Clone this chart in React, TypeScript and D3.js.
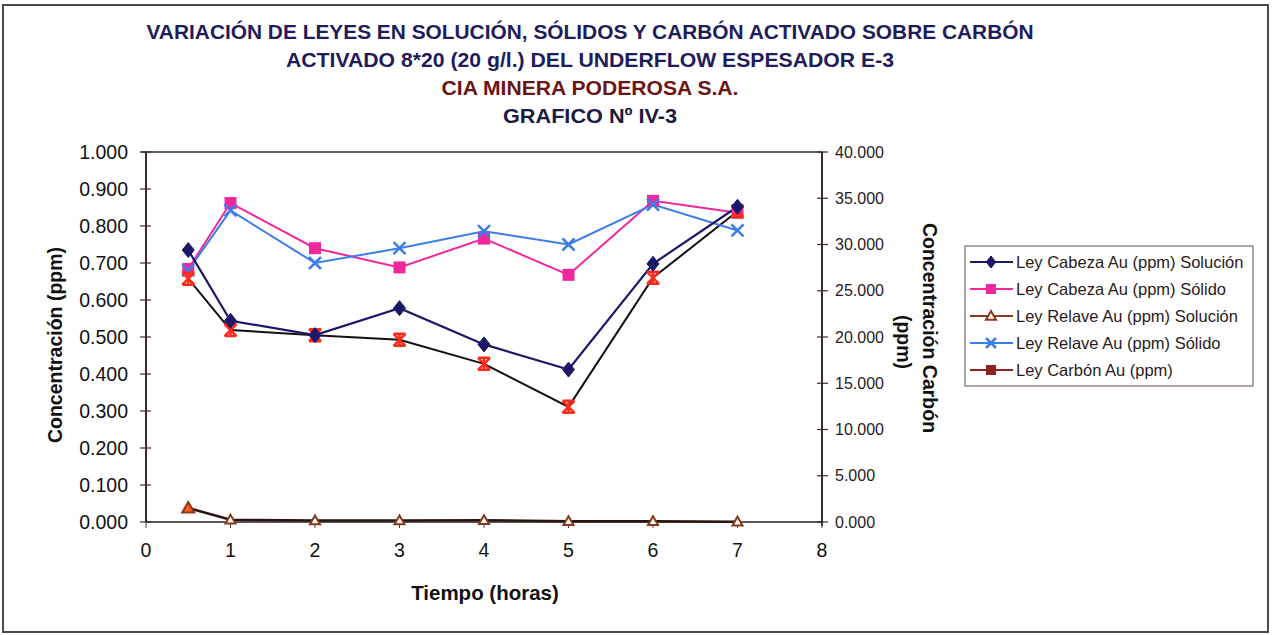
import React from "react";
import * as d3 from "d3";

const times = [0.5, 1, 2, 3, 4, 5, 6, 7];
const cabezaSolucion = [0.735, 0.544, 0.505, 0.578, 0.480, 0.412, 0.698, 0.852];
const cabezaSolido = [0.684, 0.862, 0.740, 0.688, 0.766, 0.668, 0.868, 0.836];
const relaveSolucion = [0.038, 0.006, 0.004, 0.004, 0.005, 0.002, 0.002, 0.001];
const relaveSolido = [0.680, 0.842, 0.700, 0.740, 0.786, 0.750, 0.858, 0.788];
const carbon = [26300, 20750, 20200, 19700, 17100, 12450, 26400, 33600];

const leftTicks = [0, 0.1, 0.2, 0.3, 0.4, 0.5, 0.6, 0.7, 0.8, 0.9, 1.0];
const rightTicks = [0, 5000, 10000, 15000, 20000, 25000, 30000, 35000, 40000];
const xTicks = [0, 1, 2, 3, 4, 5, 6, 7, 8];

const titleLines = [
  { text: "VARIACIÓN DE LEYES EN SOLUCIÓN, SÓLIDOS Y CARBÓN ACTIVADO SOBRE CARBÓN", color: "#1f1c5c" },
  { text: "ACTIVADO 8*20 (20 g/l.) DEL UNDERFLOW ESPESADOR E-3", color: "#1f1c5c" },
  { text: "CIA MINERA PODEROSA S.A.", color: "#6b1414" },
  { text: "GRAFICO Nº IV-3", color: "#1c1a40" },
];
const titleWidths = [887, 608, 297, 174];

const legendLabels = [
  "Ley Cabeza Au (ppm) Solución",
  "Ley Cabeza Au (ppm) Sólido",
  "Ley Relave Au (ppm) Solución",
  "Ley Relave Au (ppm) Sólido",
  "Ley Carbón Au (ppm)",
];

const NAVY = "#1b1868";
const PINK = "#f0289c";
const BROWN = "#8a3a1c";
const BLUE = "#3c7ee8";
const CARB_RED = "#ff2a1a";
const CARB_LEG = "#8c2424";

const fmt = (v: number) => d3.format(".3f")(v).replace(",", "");
const fmtR = (v: number) => (v / 1000).toFixed(3);

function Diamond({ x, y, s = 7, fill }: { x: number; y: number; s?: number; fill: string }) {
  return <path d={`M${x},${y - s}L${x + s * 0.8},${y}L${x},${y + s}L${x - s * 0.8},${y}Z`} fill={fill} stroke={fill} />;
}
function Square({ x, y, s = 6, fill }: { x: number; y: number; s?: number; fill: string }) {
  return <rect x={x - s} y={y - s} width={2 * s} height={2 * s} fill={fill} />;
}
function Cross({ x, y, s = 6, stroke }: { x: number; y: number; s?: number; stroke: string }) {
  return <path d={`M${x - s},${y - s}L${x + s},${y + s}M${x - s},${y + s}L${x + s},${y - s}`} stroke={stroke} strokeWidth={2.5} fill="none" />;
}
function Tri({ x, y, s = 6, stroke, fill }: { x: number; y: number; s?: number; stroke: string; fill: string }) {
  return <path d={`M${x},${y - s}L${x + s},${y + s * 0.75}L${x - s},${y + s * 0.75}Z`} stroke={stroke} strokeWidth={2} fill={fill} />;
}
function Star({ x, y, s = 6, color }: { x: number; y: number; s?: number; color: string }) {
  return (
    <path d={`M${x - s},${y - s}L${x + s},${y + s}M${x - s},${y + s}L${x + s},${y - s}M${x - s},${y - s}L${x + s},${y - s}M${x - s},${y + s}L${x + s},${y + s}M${x},${y - s}L${x},${y + s}`} stroke={color} strokeWidth={2.5} fill="none" />
  );
}

export default function App() {
  const W = 1272, H = 635;
  const x0 = 146, x1 = 822, yTop = 152, yBot = 522;
  const x = d3.scaleLinear().domain([0, 8]).range([x0, x1]);
  const yL = d3.scaleLinear().domain([0, 1]).range([yBot, yTop]);
  const yR = d3.scaleLinear().domain([0, 40000]).range([yBot, yTop]);

  const lineL = (vals: number[]) =>
    d3.line<number>().x((_, i) => x(times[i])).y((v) => yL(v))(vals) || "";
  const lineR = (vals: number[]) =>
    d3.line<number>().x((_, i) => x(times[i])).y((v) => yR(v))(vals) || "";

  const font = "'Liberation Sans', Arial, sans-serif";

  const legX = 965, legY = 246;
  const legRows = [262, 289, 316, 343, 370];

  return (
    <svg width={W} height={H} style={{ position: "absolute", left: 0, top: 0, background: "#fff" }}>
      <rect x={0} y={0} width={W} height={H} fill="#fff" />
      <rect x={3} y={5} width={1265} height={627} fill="none" stroke="#4a4a4a" strokeWidth={2} />

      {titleLines.map((t, i) => (
        <text key={i} x={590} y={39 + i * 28} textAnchor="middle" fill={t.color}
          fontFamily={font} fontWeight="bold" fontSize={20}
          textLength={titleWidths[i]} lengthAdjust="spacingAndGlyphs">{t.text}</text>
      ))}

      {/* plot frame */}
      <line x1={141} y1={yTop} x2={x1} y2={yTop} stroke="#3a2a2a" strokeWidth={1.5} />
      <line x1={x0} y1={yTop} x2={x0} y2={yBot} stroke="#3a2a2a" strokeWidth={2} />
      <line x1={x1} y1={yTop} x2={x1} y2={yBot + 4} stroke="#3a2a2a" strokeWidth={2} />
      <line x1={x0} y1={yBot} x2={x1} y2={yBot} stroke="#222" strokeWidth={1.5} />

      {leftTicks.map((t) => (
        <g key={"l" + t}>
          <line x1={140} x2={151} y1={yL(t)} y2={yL(t)} stroke="#3a2a2a" strokeWidth={1.2} />
          <text x={128} y={yL(t)} dy="0.35em" textAnchor="end" fontFamily={font} fontSize={19.5} fill="#111">{fmt(t)}</text>
        </g>
      ))}
      {rightTicks.map((t) => (
        <g key={"r" + t}>
          <line x1={817} x2={828} y1={yR(t)} y2={yR(t)} stroke="#3a2a2a" strokeWidth={1.2} />
          <text x={835} y={yR(t)} dy="0.35em" textAnchor="start" fontFamily={font} fontSize={16} fill="#2a1a1a">{fmtR(t)}</text>
        </g>
      ))}
      {xTicks.map((t) => (
        <g key={"x" + t}>
          <line x1={x(t)} x2={x(t)} y1={yBot} y2={yBot + 6} stroke="#444" strokeWidth={1} />
          <text x={x(t)} y={550} dy="0.35em" textAnchor="middle" fontFamily={font} fontSize={19.5} fill="#111">{t}</text>
        </g>
      ))}

      <text x={485} y={593} dy="0.35em" textAnchor="middle" fontFamily={font} fontWeight="bold" fontSize={20.5} fill="#111">Tiempo (horas)</text>
      <text transform={`translate(55,345) rotate(-90)`} textAnchor="middle" dy="0.35em" fontFamily={font} fontWeight="bold" fontSize={19.5} fill="#111">Concentración (ppm)</text>
      <text transform={`translate(930,328) rotate(90)`} textAnchor="middle" dy="0.35em" fontFamily={font} fontWeight="bold" fontSize={19.5} fill="#111">Concentración Carbón</text>
      <text transform={`translate(904,342) rotate(90)`} textAnchor="middle" dy="0.35em" fontFamily={font} fontWeight="bold" fontSize={19.5} fill="#111">(ppm)</text>

      {/* series lines */}
      <path d={lineL(relaveSolucion)} fill="none" stroke="#2a1510" strokeWidth={2.5} />
      <path d={lineR(carbon)} fill="none" stroke="#111" strokeWidth={2} />
      <path d={lineL(cabezaSolido)} fill="none" stroke={PINK} strokeWidth={2} />
      <path d={lineL(relaveSolido)} fill="none" stroke={BLUE} strokeWidth={2} />
      <path d={lineL(cabezaSolucion)} fill="none" stroke={NAVY} strokeWidth={2.2} />

      {/* markers */}
      {relaveSolucion.map((v, i) => (
        <Tri key={"t" + i} x={x(times[i])} y={yL(v)} s={i === 0 ? 6 : 5} stroke={BROWN} fill={i === 0 ? "#ff5a1a" : "#fff"} />
      ))}
      {cabezaSolido.map((v, i) => (
        <Square key={"s" + i} x={x(times[i])} y={yL(v)} fill={PINK} />
      ))}
      {relaveSolido.map((v, i) => (
        <Cross key={"c" + i} x={x(times[i])} y={yL(v)} stroke={BLUE} />
      ))}
      {carbon.map((v, i) => (
        <Star key={"k" + i} x={x(times[i])} y={yR(v)} color={CARB_RED} />
      ))}
      {cabezaSolucion.map((v, i) => (
        <Diamond key={"d" + i} x={x(times[i])} y={yL(v)} s={7.5} fill={NAVY} />
      ))}

      {/* legend */}
      <rect x={legX} y={legY} width={288} height={140} fill="#fff" stroke="#7a6a6a" strokeWidth={1.2} />
      {legendLabels.map((lab, i) => {
        const cy = legRows[i];
        const colors = [NAVY, PINK, BROWN, BLUE, CARB_LEG];
        const c = colors[i];
        return (
          <g key={"lg" + i}>
            <line x1={970} x2={1013} y1={cy} y2={cy} stroke={c} strokeWidth={2} />
            {i === 0 && <Diamond x={991} y={cy} s={6} fill={c} />}
            {i === 1 && <Square x={991} y={cy} s={5} fill={c} />}
            {i === 2 && <Tri x={991} y={cy} s={5} stroke={c} fill="#fff" />}
            {i === 3 && <Cross x={991} y={cy} s={5} stroke={c} />}
            {i === 4 && <Square x={991} y={cy} s={5} fill={c} />}
            <text x={1016} y={cy} dy="0.35em" fontFamily={font} fontSize={16.5} fill="#2a1a1a">{lab}</text>
          </g>
        );
      })}
    </svg>
  );
}
